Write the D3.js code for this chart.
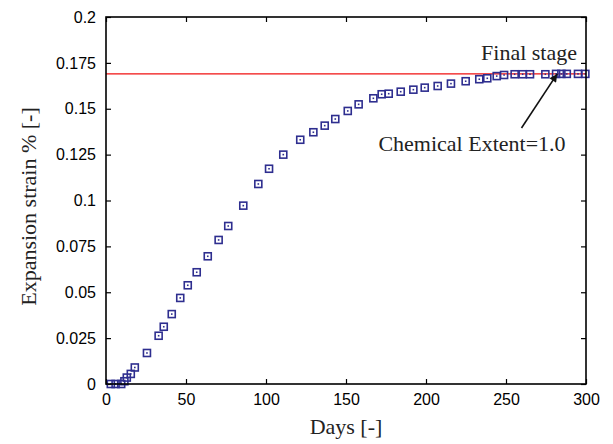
<!DOCTYPE html>
<html>
<head>
<meta charset="utf-8">
<script src="https://cdn.jsdelivr.net/npm/d3@7"></script>
<style>
  body { margin: 0; background: #fff; }
  svg { display: block; }
  .tick text { font-family: "Liberation Sans", Arial, sans-serif; font-size: 16px; fill: #000; }
  .title { font-family: "Liberation Serif", "DejaVu Serif", serif; font-size: 22px; fill: #222; }
</style>
</head>
<body>
<div id="chart"></div>
<script>
// measured expansion (days, strain %)
var days = [3, 6, 9.5, 11.5, 13, 15.5, 18, 25.6, 32.9, 36.1, 41.1, 46.4, 51.1, 56.7, 63.6, 70.4, 76.4, 85.8, 95.2, 101.9,
  110.8, 121.4, 129.6, 136.7, 143.3, 151.1, 157.9, 167.1, 172.3, 176.7, 184.2, 192.1, 199.2, 207.3, 215.6, 224.8,
  233.3, 238.3, 244.2, 248.8, 255.4, 260.4, 265, 274.6, 281.3, 284.6, 288, 295, 299.6];
var strain = [0, 0, 0, 0.0015, 0.0035, 0.0055, 0.009, 0.0169, 0.0263, 0.0312, 0.0381, 0.0469, 0.0538, 0.0609, 0.0696, 0.0785, 0.0861, 0.0972, 0.109, 0.1173,
  0.125, 0.1331, 0.1372, 0.1408, 0.1444, 0.1488, 0.1524, 0.1557, 0.1579, 0.1582, 0.1593, 0.1604, 0.1615, 0.1624, 0.1637, 0.165,
  0.1661, 0.1666, 0.1678, 0.1684, 0.1688, 0.1688, 0.1688, 0.1688, 0.169, 0.169, 0.169, 0.169, 0.169];
var finalStrain = 0.169;
var xTicks = [0, 50, 100, 150, 200, 250, 300];
var yTicks = [0, 0.025, 0.05, 0.075, 0.1, 0.125, 0.15, 0.175, 0.2];

var width = 613, height = 444;
var mLeft = 106, mRight = 586, mTop = 17, mBottom = 384;

var svg = d3.select("#chart").append("svg")
  .attr("width", width)
  .attr("height", height);

var x = d3.scaleLinear().domain([0, 300]).range([mLeft, mRight]);
var y = d3.scaleLinear().domain([0, 0.2]).range([mBottom, mTop]);

var fmt = function(d) { return d3.format("")(+d.toFixed(3)); };

/* axes, ticks inside */
svg.append("g")
  .attr("transform", `translate(0, ${mBottom})`)
  .call(d3.axisBottom(x).tickValues(xTicks).tickSizeInner(-5).tickSizeOuter(0).tickPadding(10).tickFormat(d3.format("d")))
  .call(g => g.select(".domain").remove());
svg.append("g")
  .attr("transform", `translate(0, ${mTop})`)
  .call(d3.axisTop(x).tickValues(xTicks).tickSizeInner(-5).tickSizeOuter(0).tickFormat(""))
  .call(g => g.select(".domain").remove());
svg.append("g")
  .attr("transform", `translate(${mLeft}, 0)`)
  .call(d3.axisLeft(y).tickValues(yTicks).tickSizeInner(-5).tickSizeOuter(0).tickPadding(10).tickFormat(fmt))
  .call(g => g.select(".domain").remove());
svg.append("g")
  .attr("transform", `translate(${mRight}, 0)`)
  .call(d3.axisRight(y).tickValues(yTicks).tickSizeInner(-5).tickSizeOuter(0).tickFormat(""))
  .call(g => g.select(".domain").remove());

svg.selectAll(".tick line").attr("stroke", "#000").attr("stroke-width", 1.2);

/* final stage line */
svg.append("line")
  .attr("x1", x(0)).attr("x2", x(300))
  .attr("y1", y(finalStrain)).attr("y2", y(finalStrain))
  .attr("stroke", "#f01010")
  .attr("stroke-width", 1.3);

/* markers */
var pts = days.map((d, i) => ({ day: d, value: strain[i] }));
var marks = svg.append("g").selectAll("g")
  .data(pts).enter()
  .append("g")
  .attr("transform", d => `translate(${x(d.day)}, ${y(d.value)})`);
marks.append("rect")
  .attr("x", -3.5).attr("y", -3.5)
  .attr("width", 7).attr("height", 7)
  .attr("fill", "none")
  .attr("stroke", "#2e2e8f")
  .attr("stroke-width", 1.6);
marks.append("rect")
  .attr("x", -0.8).attr("y", -0.8)
  .attr("width", 1.6).attr("height", 1.6)
  .attr("fill", "#2e2e8f");

/* frame */
svg.append("rect")
  .attr("x", mLeft).attr("y", mTop)
  .attr("width", mRight - mLeft).attr("height", mBottom - mTop)
  .attr("fill", "none")
  .attr("stroke", "#000")
  .attr("stroke-width", 1.6);

/* annotation */
svg.append("defs").append("marker")
  .attr("id", "head")
  .attr("viewBox", "0 0 10 10")
  .attr("refX", 10).attr("refY", 5)
  .attr("markerWidth", 6).attr("markerHeight", 5)
  .attr("orient", "auto")
  .append("path")
  .attr("d", "M0,0 L10,5 L0,10 z")
  .attr("fill", "#111");

svg.append("line")
  .attr("x1", 521.5).attr("y1", 128)
  .attr("x2", x(282)).attr("y2", y(finalStrain))
  .attr("stroke", "#111")
  .attr("stroke-width", 1.6)
  .attr("marker-end", "url(#head)");

svg.append("text")
  .attr("class", "title")
  .attr("x", 577).attr("y", 60)
  .attr("text-anchor", "end")
  .text("Final stage");

svg.append("text")
  .attr("class", "title")
  .attr("x", 472).attr("y", 151)
  .attr("text-anchor", "middle")
  .text("Chemical Extent=1.0");

/* axis titles */
svg.append("text")
  .attr("class", "title")
  .attr("x", (mLeft + mRight) / 2)
  .attr("y", 434)
  .attr("text-anchor", "middle")
  .text("Days [-]");

svg.append("text")
  .attr("class", "title")
  .attr("transform", `translate(36, ${(mTop + mBottom) / 2 + 6}) rotate(-90)`)
  .attr("text-anchor", "middle")
  .text("Expansion strain % [-]");
</script>
</body>
</html>
